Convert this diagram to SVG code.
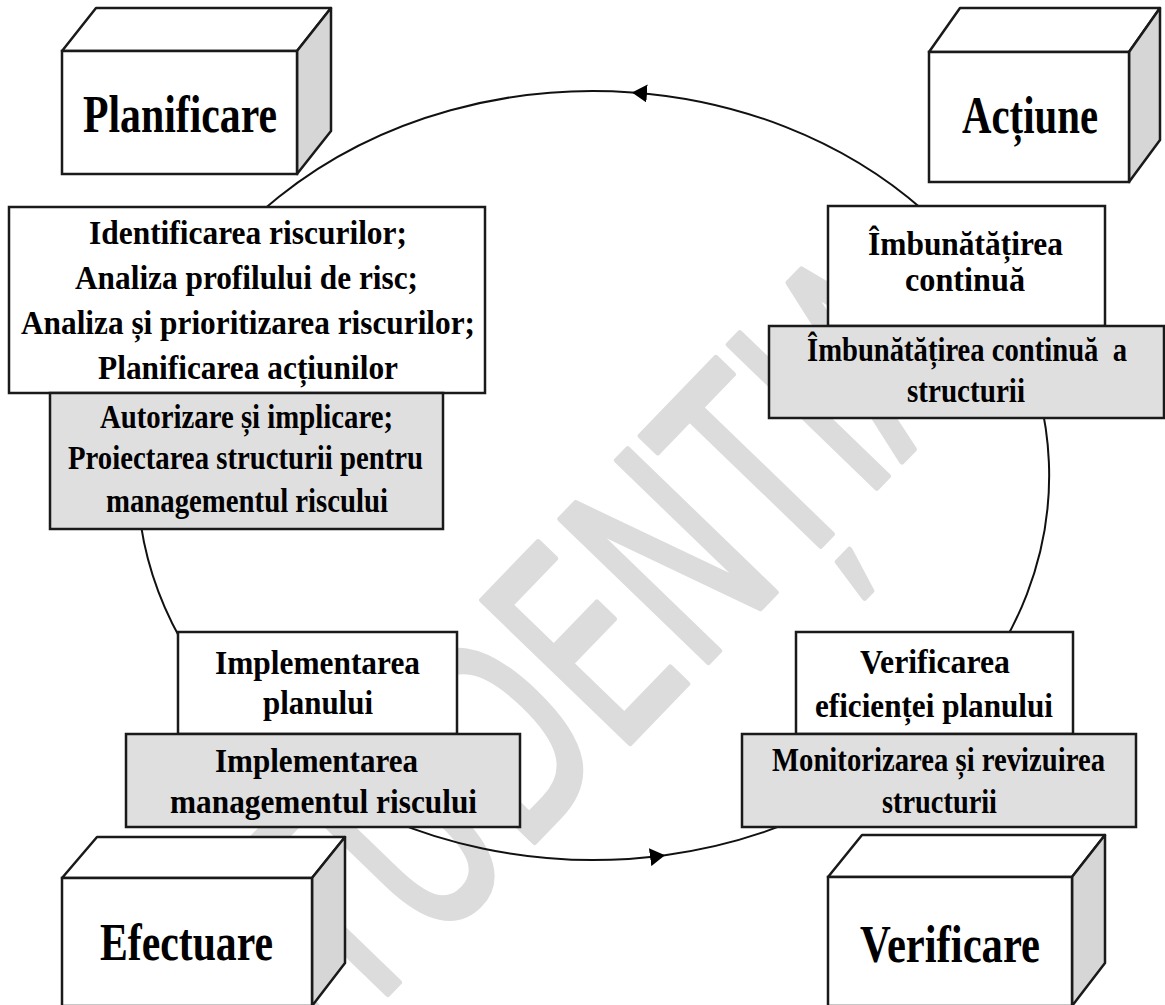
<svg xmlns="http://www.w3.org/2000/svg" width="1165" height="1005" viewBox="0 0 1165 1005">
<style>
.wm{font-family:"DejaVu Sans Condensed","DejaVu Sans","Liberation Sans",sans-serif;font-size:282px;fill:#dcdcdc;stroke:#dcdcdc;stroke-width:6;stroke-linejoin:round;text-anchor:middle}
.box{fill:#fff;stroke:#1a1a1a;stroke-width:2.5}
.gbox{fill:#dfdfdf;stroke:#1a1a1a;stroke-width:2.5}
.side{fill:#d6d6d6;stroke:#1a1a1a;stroke-width:2.5;stroke-linejoin:round}
.top{fill:#fff;stroke:#1a1a1a;stroke-width:2.5;stroke-linejoin:round}
.t{font-family:"Liberation Serif","Times New Roman",serif;font-weight:bold;text-anchor:middle;fill:#000}
.big{font-size:52px}
.sm{font-size:34.5px}
.conn{fill:none;stroke:#111;stroke-width:2}
</style>
<defs>
<marker id="arr" viewBox="0 -9 15 18" markerWidth="15" markerHeight="18" markerUnits="userSpaceOnUse" refX="15" refY="0" orient="auto">
<polygon points="0,-9 15,0 0,9" fill="#000"/>
</marker>
</defs>
<rect width="1165" height="1005" fill="#fff"/>
<text class="wm" transform="translate(631,742) rotate(-46)" textLength="1020" lengthAdjust="spacingAndGlyphs">STUDENȚIA</text>
<g id="connectors">
<path class="conn" marker-start="url(#arr)" marker-mid="url(#arr)" d="M 632 92.4 A 456 384.5 0 1 0 665 855.2 A 456 384.5 0 0 0 632 92.4"/>
</g>
<g id="planificare">
<polygon class="top" points="62,51 96,8 331,8 297,51"/>
<polygon class="side" points="297,51 331,8 331,131 297,174"/>
<rect class="box" x="62" y="51" width="235" height="123"/>
<text class="t big" x="180" y="132" textLength="194" lengthAdjust="spacingAndGlyphs">Planificare</text>
</g>
<g id="actiune">
<polygon class="top" points="929,52 960,8 1160,8 1129,52"/>
<polygon class="side" points="1129,52 1160,8 1160,140 1129,182"/>
<rect class="box" x="929" y="52" width="200" height="130"/>
<text class="t big" x="1030" y="133" textLength="136" lengthAdjust="spacingAndGlyphs">Acțiune</text>
</g>
<g id="efectuare">
<polygon class="top" points="62,878 97,837 345,837 312,878"/>
<polygon class="side" points="312,878 345,837 345,963 312,1006"/>
<rect class="box" x="62" y="878" width="250" height="128"/>
<text class="t big" x="186.5" y="960" textLength="173" lengthAdjust="spacingAndGlyphs">Efectuare</text>
</g>
<g id="verificare">
<polygon class="top" points="828,877 862,835 1105,835 1072,877"/>
<polygon class="side" points="1072,877 1105,835 1105,963 1072,1006"/>
<rect class="box" x="828" y="877" width="244" height="129"/>
<text class="t big" x="950" y="962" textLength="180" lengthAdjust="spacingAndGlyphs">Verificare</text>
</g>
<g id="plan-activitati">
<rect class="box" x="9" y="207" width="476" height="186"/>
<text class="t sm" x="248" y="244" textLength="318" lengthAdjust="spacingAndGlyphs">Identificarea riscurilor;</text>
<text class="t sm" x="246.5" y="289" textLength="343" lengthAdjust="spacingAndGlyphs">Analiza profilului de risc;</text>
<text class="t sm" x="248" y="334" textLength="454" lengthAdjust="spacingAndGlyphs">Analiza și prioritizarea riscurilor;</text>
<text class="t sm" x="248" y="379" textLength="300" lengthAdjust="spacingAndGlyphs">Planificarea acțiunilor</text>
</g>
<g id="plan-structura">
<rect class="gbox" x="50" y="393" width="393" height="136"/>
<text class="t sm" x="246.5" y="428" textLength="293" lengthAdjust="spacingAndGlyphs">Autorizare și implicare;</text>
<text class="t sm" x="245.5" y="469" textLength="355" lengthAdjust="spacingAndGlyphs">Proiectarea structurii pentru</text>
<text class="t sm" x="247" y="512" textLength="282" lengthAdjust="spacingAndGlyphs">managementul riscului</text>
</g>
<g id="actiune-activitati">
<rect class="box" x="828" y="206" width="277" height="120"/>
<text class="t sm" x="965.5" y="255" textLength="195" lengthAdjust="spacingAndGlyphs">Îmbunătățirea</text>
<text class="t sm" x="965" y="291" textLength="120" lengthAdjust="spacingAndGlyphs">continuă</text>
</g>
<g id="actiune-structura">
<rect class="gbox" x="769" y="326" width="395" height="92"/>
<text class="t sm" x="967" y="361" textLength="320" lengthAdjust="spacingAndGlyphs">Îmbunătățirea continuă&#160; a</text>
<text class="t sm" x="966" y="402" textLength="118" lengthAdjust="spacingAndGlyphs">structurii</text>
</g>
<g id="efectuare-activitati">
<rect class="box" x="178" y="632" width="279" height="102"/>
<text class="t sm" x="317.5" y="674" textLength="205" lengthAdjust="spacingAndGlyphs">Implementarea</text>
<text class="t sm" x="318" y="714" textLength="110" lengthAdjust="spacingAndGlyphs">planului</text>
</g>
<g id="efectuare-structura">
<rect class="gbox" x="126" y="734" width="394" height="93"/>
<text class="t sm" x="316.5" y="772" textLength="203" lengthAdjust="spacingAndGlyphs">Implementarea</text>
<text class="t sm" x="323.5" y="813" textLength="307" lengthAdjust="spacingAndGlyphs">managementul riscului</text>
</g>
<g id="verificare-activitati">
<rect class="box" x="796" y="632" width="277" height="102"/>
<text class="t sm" x="935" y="673" textLength="150" lengthAdjust="spacingAndGlyphs">Verificarea</text>
<text class="t sm" x="934" y="717" textLength="238" lengthAdjust="spacingAndGlyphs">eficienței planului</text>
</g>
<g id="verificare-structura">
<rect class="gbox" x="742" y="734" width="394" height="93"/>
<text class="t sm" x="938.5" y="771" textLength="333" lengthAdjust="spacingAndGlyphs">Monitorizarea și revizuirea</text>
<text class="t sm" x="939.5" y="813" textLength="115" lengthAdjust="spacingAndGlyphs">structurii</text>
</g>
</svg>
